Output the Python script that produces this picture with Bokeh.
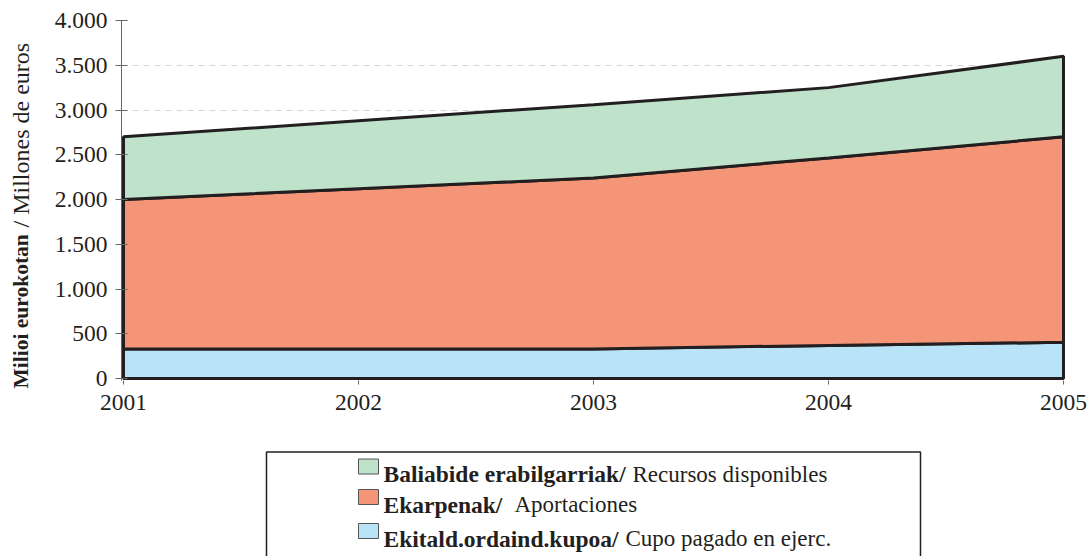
import numpy as np
from bokeh.plotting import figure
from bokeh.models import Range1d, FixedTicker, ColumnDataSource
from bokeh.layouts import column, row
from bokeh.embed import file_html
from bokeh.resources import INLINE
from bokeh.core.properties import value

# ---------------- data ----------------
years = [2001, 2002, 2003, 2004, 2005]
year_labels = ["2001", "2002", "2003", "2004", "2005"]
cupo = [330, 330, 330, 370, 405]             # Ekitald.ordaind.kupoa / Cupo pagado en ejerc.
aportaciones = [1670, 1790, 1910, 2095, 2295]  # Ekarpenak / Aportaciones
recursos = [700, 760, 820, 785, 900]         # Baliabide erabilgarriak / Recursos disponibles
y_ticks = [0, 500, 1000, 1500, 2000, 2500, 3000, 3500, 4000]
y_tick_labels = ["0", "500", "1.000", "1.500", "2.000", "2.500", "3.000", "3.500", "4.000"]

legend_bold = ["Baliabide erabilgarriak/", "Ekarpenak/", "Ekitald.ordaind.kupoa/"]
legend_normal = ["Recursos disponibles", "Aportaciones", "Cupo pagado en ejerc."]
ylabel_bold = "Milioi eurokotan"
ylabel_normal = "/ Millones de euros"

# ---------------- style ----------------
FONT = "Liberation Serif"
DARK = "#231f20"
C_GREEN = "#bfe2cb"
C_ORANGE = "#f49577"
C_BLUE = "#b9e4f8"

W_TOTAL = 1092
W_T = 40
H_TOP = 448
H_LEG = 108


def no_align(fig):
    if "frame_align" in fig.properties():
        fig.frame_align = False


# ---------------- y title strip ----------------
t = figure(width=W_T, height=H_TOP, x_range=Range1d(0, W_T), y_range=Range1d(H_TOP, 0),
           toolbar_location=None, output_backend="svg", x_axis_type=None, y_axis_type=None,
           min_border=0)
t.outline_line_color = None
t.grid.visible = False
no_align(t)
t.text(x=[20], y=[388], text=[ylabel_bold], angle=np.pi / 2, text_font=value(FONT),
       text_font_style="bold", text_font_size="21.5px", text_color=DARK,
       text_align="left", text_baseline="middle")
t.text(x=[20], y=[227], text=[ylabel_normal], angle=np.pi / 2, text_font=value(FONT),
       text_font_style="normal", text_font_size="24px", text_color=DARK,
       text_align="left", text_baseline="middle")

# ---------------- main chart ----------------
# small margin (2 px) around the data box so the 3 px outlines are not cut by the frame
PX_X = 4.0 / 940.0
PX_Y = 4000.0 / 358.0
p = figure(width=W_TOTAL - W_T, height=H_TOP,
           x_range=Range1d(years[0] - 2 * PX_X, years[-1] + 2 * PX_X),
           y_range=Range1d(-2 * PX_Y, 4000),
           toolbar_location=None, output_backend="svg",
           min_border_left=81, min_border_right=27, min_border_top=20, min_border_bottom=68)
p.outline_line_color = None
no_align(p)

s0 = np.zeros(len(years))
s1 = s0 + np.array(cupo)
s2 = s1 + np.array(aportaciones)
s3 = s2 + np.array(recursos)
bands = [(s0, s1, C_BLUE), (s1, s2, C_ORANGE), (s2, s3, C_GREEN)]
for lo, hi, col in bands:
    xs = list(years) + list(years[::-1])
    ys = list(hi) + list(lo[::-1])
    p.patch(xs, ys, fill_color=col, line_color=DARK, line_width=3)

p.xaxis.ticker = FixedTicker(ticks=years)
p.xaxis.major_label_overrides = {y: l for y, l in zip(years, year_labels)}
p.yaxis.ticker = FixedTicker(ticks=y_ticks)
p.yaxis.major_label_overrides = {tk: l for tk, l in zip(y_ticks, y_tick_labels)}
for ax in (p.xaxis[0], p.yaxis[0]):
    ax.major_label_text_font = FONT
    ax.major_label_text_font_size = "23.5px"
    ax.major_label_text_color = DARK
    ax.minor_tick_line_color = None
p.xaxis.axis_line_color = None
p.xaxis.major_tick_line_color = "#666666"
p.xaxis.major_tick_in = 0
p.xaxis.major_tick_out = 4
p.xaxis.major_label_standoff = 10
p.yaxis.axis_line_color = "#666666"
p.yaxis.major_tick_line_color = "#666666"
p.yaxis.major_tick_in = 6
p.yaxis.major_tick_out = 6
p.yaxis.major_label_standoff = 8

p.xgrid.grid_line_color = None
p.ygrid.grid_line_color = "#d4d4d4"
p.ygrid.grid_line_dash = "6 5"
p.ygrid.grid_line_width = 1

# ---------------- legend panel ----------------
q = figure(width=W_TOTAL, height=H_LEG, x_range=Range1d(0, W_TOTAL), y_range=Range1d(H_LEG, 0),
           toolbar_location=None, output_backend="svg", x_axis_type=None, y_axis_type=None,
           min_border=0)
q.outline_line_color = None
q.grid.visible = False
no_align(q)

# box (open at the bottom, cut by the window)
q.line([266, 266, 920, 920], [H_LEG, 3.5, 3.5, H_LEG], line_color=DARK, line_width=1.5)

leg_colors = [C_GREEN, C_ORANGE, C_BLUE]
baselines = [25.5, 56.0, 90.0]
normal_x = [632, 514, 625]
src = ColumnDataSource(dict(
    sx=[368] * 3, sy=[b - 7.5 for b in baselines], col=leg_colors,
    tx=[383] * 3, ty=baselines, bold=legend_bold,
    nx=normal_x, normal=legend_normal))
q.rect(x="sx", y="sy", width=20, height=15, fill_color="col", line_color="#555555",
       line_width=1, source=src)
q.text(x="tx", y="ty", text="bold", text_font=value(FONT), text_font_style="bold",
       text_font_size="23.5px", text_color=DARK, text_baseline="alphabetic",
       text_align="left", source=src)
q.text(x="nx", y="ty", text="normal", text_font=value(FONT), text_font_style="normal",
       text_font_size="23px", text_color=DARK, text_baseline="alphabetic",
       text_align="left", source=src)

layout = column(row(t, p, spacing=0), q, spacing=0)
open("out.html", "w").write(file_html(layout, INLINE))
